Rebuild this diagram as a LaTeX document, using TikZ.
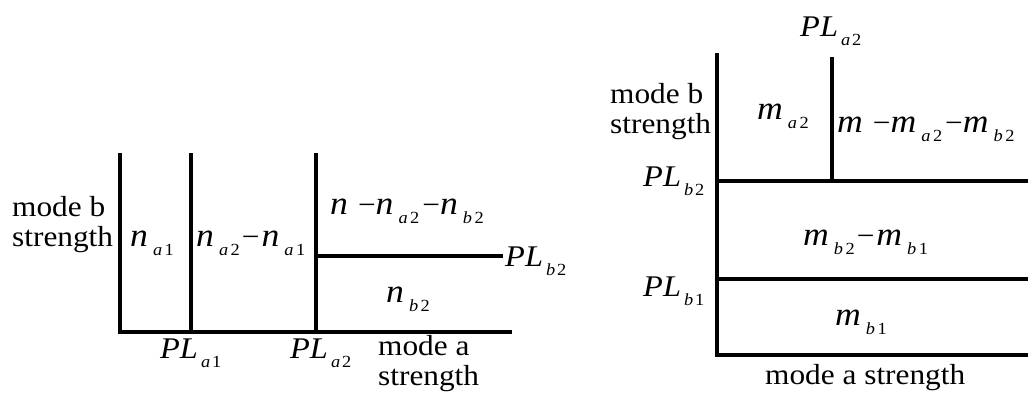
\documentclass[tikz,border=0pt]{standalone}
\usepackage{fontspec}
\setmainfont{Liberation Serif}[FakeStretch=1.08]
\newcommand\V[1]{{\fontsize{33}{33}\selectfont\textit{#1}}}
\newcommand\PL{{\fontsize{30}{30}\selectfont\textit{PL}}}
\newcommand\sbs[2]{\kern5pt\raisebox{-9pt}{\fontsize{17}{17}\selectfont\textit{#1}\kern2.5pt #2}}
\newcommand\psb[2]{\kern3pt\raisebox{-9pt}{\fontsize{17}{17}\selectfont\textit{#1}\kern2pt #2}}
\newcommand\mi{\kern2pt−\kern2pt}
\begin{document}
\begin{tikzpicture}[x=1pt,y=-1pt,
  ax/.style={line width=3.2pt},
  lab/.style={inner sep=0pt,anchor=base west,font=\fontsize{29}{30}\selectfont},
  two/.style={inner sep=0pt,anchor=north west,align=left,font=\fontsize{29}{30}\selectfont}]
\useasboundingbox (0,0) rectangle (1034,396);
% left diagram
\coordinate (LT) at (120,153);
\coordinate (LO) at (120,332);
\coordinate (LR) at (512,332);
\coordinate (A1T) at (191,153);
\coordinate (A1B) at (191,332);
\coordinate (A2T) at (316,153);
\coordinate (A2B) at (316,332);
\coordinate (B2L) at (316,256);
\coordinate (B2R) at (503,256);
\draw[ax] (LT) -- (LO) -- (LR);
\draw[ax] (A1T) -- (A1B);
\draw[ax] (A2T) -- (A2B);
\draw[ax] (B2L) -- (B2R);
\node[two] (lmb) at (12,196) {mode b\\strength};
\node[lab] (na1) at (130,246) {\V{n}\sbs{a}{1}};
\node[lab] (na2) at (196,246) {\V{n}\sbs{a}{2}\mi\V{n}\sbs{a}{1}};
\node[lab] (nrest) at (330,214) {\V{n}\kern10pt−\V{n}\sbs{a}{2}\kern3pt−\V{n}\sbs{b}{2}};
\node[lab] (nb2) at (386,302) {\V{n}\sbs{b}{2}};
\node[lab] (pla1) at (160,358) {\PL\psb{a}{1}};
\node[lab] (pla2) at (290,358) {\PL\psb{a}{2}};
\node[two] (lma) at (378,335) {mode a\\strength};
\node[lab] (plb2l) at (505,266) {\PL\psb{b}{2}};
% right diagram
\coordinate (RT) at (717,53);
\coordinate (RO) at (717,355);
\coordinate (RR) at (1028,355);
\coordinate (Q2T) at (832,57);
\coordinate (Q2B) at (832,181);
\coordinate (H2L) at (717,181);
\coordinate (H2R) at (1028,181);
\coordinate (H1L) at (717,279);
\coordinate (H1R) at (1028,279);
\draw[ax] (RT) -- (RO) -- (RR);
\draw[ax] (Q2T) -- (Q2B);
\draw[ax] (H2L) -- (H2R);
\draw[ax] (H1L) -- (H1R);
\node[lab] (pla2r) at (800,37) {\PL\psb{a}{2}};
\node[two] (rmb) at (610,83) {mode b\\strength};
\node[lab] (ma2) at (757,120) {\V{m}\sbs{a}{2}};
\node[lab] (mrest) at (837,132) {\V{m}\kern10pt−\V{m}\sbs{a}{2}\kern3pt−\V{m}\sbs{b}{2}};
\node[lab] (plb2) at (643,186) {\PL\psb{b}{2}};
\node[lab] (mb21) at (803,245) {\V{m}\sbs{b}{2}\mi\V{m}\sbs{b}{1}};
\node[lab] (plb1) at (643,296) {\PL\psb{b}{1}};
\node[lab] (mb1) at (835,325) {\V{m}\sbs{b}{1}};
\node[lab] (rma) at (765,384) {mode a strength};
\end{tikzpicture}
\end{document}
